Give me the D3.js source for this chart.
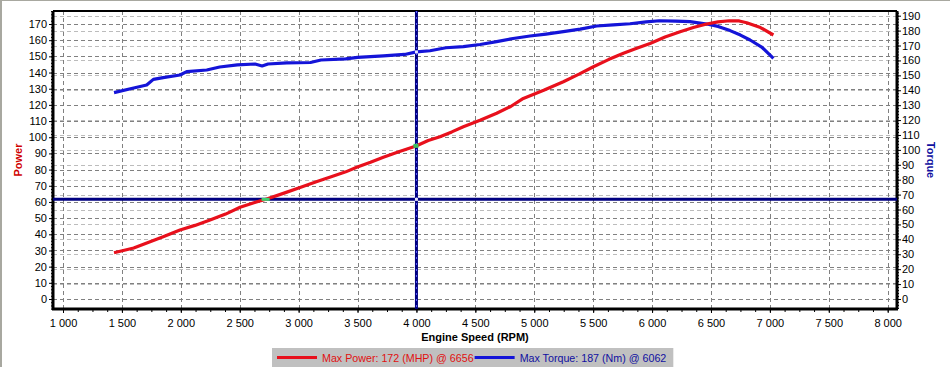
<!DOCTYPE html>
<html>
<head>
<meta charset="utf-8">
<script src="https://cdn.jsdelivr.net/npm/d3@7"></script>
<style>
  body { margin:0; background:#fff; }
  svg { display:block; font-family:"Liberation Sans", Arial, sans-serif; }
</style>
</head>
<body>
<svg width="950" height="375"></svg>
<script>
// Chart data
var powerRpm=[1433,1600,1739,1850,1993,2120,2248,2380,2503,2620,2729,2870,3012,3150,3295,3400,3493,3610,3719,3850,3997,4100,4200,4300,4398,4540,4681,4800,4907,5080,5247,5380,5502,5630,5757,5870,5983,6110,6238,6350,6464,6560,6656,6740,6803,6920,7030];
var powerVal=[28.6,31.5,35.4,38.5,42.7,45.5,48.8,52.5,56.7,59.5,61.8,65.3,69,72.5,76,78.6,81.4,84.5,87.6,91,94.6,98,100.3,103.3,106.5,110.5,114.8,119,124,129,134.3,139,143.6,148,151.9,155,158,162,165.2,167.8,170,171.3,172,171.9,170.8,167.8,163.2];

var torqueRpm=[1433,1600,1710,1767,1850,1993,2050,2220,2330,2480,2630,2690,2740,2900,3100,3190,3400,3500,3720,3900,4000,4115,4250,4398,4540,4681,4820,4964,5100,5247,5390,5530,5670,5813,5950,6062,6200,6322,6464,6560,6662,6750,6832,6930,7030];
var torqueVal=[138.4,141.5,143.5,147.3,148.5,150.2,152.5,153.6,155.6,157,157.6,156.3,157.6,158.3,158.6,160.3,161,162,163,164,165.7,166.5,168.5,169.2,170.7,172.6,174.7,176.4,177.7,179.3,181,183.1,183.8,184.6,185.8,186.6,186.4,186,184.4,182.8,180,177,173.7,169,161.4];

var xTicks=[1000,1500,2000,2500,3000,3500,4000,4500,5000,5500,6000,6500,7000,7500,8000];
var powerTicks=d3.range(0,171,10);
var torqueTicks=d3.range(0,191,10);

var cursorRpm=4000;     // vertical cursor
var cursorPower=61.6;   // horizontal cursor (left axis units)

var legendItems=[
  {label:"Max Power: 172 (MHP) @ 6656", color:"#e8101c", text:"#e01010"},
  {label:"Max Torque: 187 (Nm) @ 6062", color:"#1414d8", text:"#1010a0"}
];

// Plot area
var pLeft=53, pRight=897, pTop=11, pBottom=309;
var svg=d3.select("svg");

// outer window edge
svg.append("rect").attr("x",0).attr("y",0).attr("width",950).attr("height",1).attr("fill","#a8a8a0");
svg.append("rect").attr("x",0).attr("y",0).attr("width",2).attr("height",367).attr("fill","#a8a8a0");

var xScale=d3.scaleLinear().domain([915,8079]).range([pLeft,pRight]);
var yPower=d3.scaleLinear().domain([-6.18,178.04]).range([pBottom,pTop]);
var yTorque=d3.scaleLinear().domain([-6.71,193.15]).range([pBottom,pTop]);

// grids: light ones for torque axis, darker ones for power axis
svg.append("g")
  .selectAll("line").data(torqueTicks).enter().append("line")
    .attr("x1",pLeft).attr("x2",pRight)
    .attr("y1",d=>Math.round(yTorque(d))+0.5).attr("y2",d=>Math.round(yTorque(d))+0.5)
    .attr("stroke","#bcbcbc").attr("stroke-dasharray","4,3");

svg.append("g")
  .selectAll("line").data(powerTicks).enter().append("line")
    .attr("x1",pLeft).attr("x2",pRight)
    .attr("y1",d=>Math.round(yPower(d))+0.5).attr("y2",d=>Math.round(yPower(d))+0.5)
    .attr("stroke","#808080").attr("stroke-dasharray","4,3");

svg.append("g")
  .selectAll("line").data(xTicks).enter().append("line")
    .attr("x1",d=>Math.round(xScale(d))+0.5).attr("x2",d=>Math.round(xScale(d))+0.5)
    .attr("y1",pTop).attr("y2",pBottom)
    .attr("stroke","#808080").attr("stroke-dasharray","4,3");

// axes
var xAxis=d3.axisBottom(xScale).tickValues(xTicks).tickSize(4).tickPadding(6)
            .tickFormat(d=>d3.format(",")(d).replace(","," "));
var xMinor=d3.axisBottom(xScale).tickValues(d3.range(1000,8001,125)).tickSize(3).tickFormat("");
var yAxisL=d3.axisLeft(yPower).tickValues(powerTicks).tickSize(4).tickPadding(2);
var yMinorL=d3.axisLeft(yPower).tickValues(d3.range(-6,179,2)).tickSize(2).tickFormat("");
var yAxisR=d3.axisRight(yTorque).tickValues(torqueTicks).tickSize(4).tickPadding(1);
var yMinorR=d3.axisRight(yTorque).tickValues(d3.range(-6,194,2)).tickSize(2).tickFormat("");

function styleAxis(g){
  g.select(".domain").remove();
  g.selectAll("text").attr("font-size","11px").attr("fill","#000")
   .attr("font-family","'Liberation Sans', Arial, sans-serif");
  g.selectAll("line").attr("stroke","#000");
}
svg.append("g").attr("transform","translate(0,"+pBottom+")").call(xMinor).call(styleAxis);
svg.append("g").attr("transform","translate(0,"+pBottom+")").call(xAxis).call(styleAxis);
svg.append("g").attr("transform","translate("+pLeft+",0)").call(yMinorL).call(styleAxis);
svg.append("g").attr("transform","translate("+pLeft+",0)").call(yAxisL).call(styleAxis);
svg.append("g").attr("transform","translate("+pRight+",0)").call(yMinorR).call(styleAxis);
svg.append("g").attr("transform","translate("+pRight+",0)").call(yAxisR).call(styleAxis);

// frame
svg.append("line").attr("x1",pLeft).attr("x2",pRight).attr("y1",pTop).attr("y2",pTop).attr("stroke","#000").attr("stroke-width",2);
svg.append("line").attr("x1",pLeft-1).attr("x2",pRight+1).attr("y1",pBottom).attr("y2",pBottom).attr("stroke","#000").attr("stroke-width",3);
svg.append("line").attr("x1",pLeft).attr("x2",pLeft).attr("y1",pTop).attr("y2",pBottom).attr("stroke","#000").attr("stroke-width",3);
svg.append("line").attr("x1",pRight).attr("x2",pRight).attr("y1",pTop).attr("y2",pBottom).attr("stroke","#000").attr("stroke-width",3);

// cursor lines
var cx=xScale(cursorRpm), cy=yPower(cursorPower);
svg.append("line").attr("x1",cx).attr("x2",cx).attr("y1",pTop).attr("y2",pBottom)
   .attr("stroke","#000080").attr("stroke-width",3);
svg.append("line").attr("x1",cx).attr("x2",cx).attr("y1",pTop).attr("y2",pBottom)
   .attr("stroke","#6060ff").attr("stroke-width",1).attr("stroke-dasharray","2,4");
svg.append("line").attr("x1",pLeft).attr("x2",pRight).attr("y1",cy).attr("y2",cy)
   .attr("stroke","#000080").attr("stroke-width",3);

// curves
var powerData=powerRpm.map((r,i)=>[r,powerVal[i]]);
var torqueData=torqueRpm.map((r,i)=>[r,torqueVal[i]]);

svg.append("path").datum(torqueData)
   .attr("d",d3.line().x(d=>xScale(d[0])).y(d=>yTorque(d[1])))
   .attr("fill","none").attr("stroke",legendItems[1].color).attr("stroke-width",3.2)
   .attr("stroke-linejoin","round");
svg.append("path").datum(powerData)
   .attr("d",d3.line().x(d=>xScale(d[0])).y(d=>yPower(d[1])))
   .attr("fill","none").attr("stroke",legendItems[0].color).attr("stroke-width",3.2)
   .attr("stroke-linejoin","round");

// cursor intersection markers
function interp(xs,ys,x){
  for(var i=1;i<xs.length;i++){
    if(xs[i]>=x){var t=(x-xs[i-1])/(xs[i]-xs[i-1]);return ys[i-1]+t*(ys[i]-ys[i-1]);}
  }
  return ys[ys.length-1];
}
function interpInv(xs,ys,y){
  for(var i=1;i<ys.length;i++){
    if(ys[i]>=y){var t=(y-ys[i-1])/(ys[i]-ys[i-1]);return xs[i-1]+t*(xs[i]-xs[i-1]);}
  }
  return xs[xs.length-1];
}
svg.append("rect").attr("x",cx-3).attr("y",yPower(interp(powerRpm,powerVal,cursorRpm))-2)
   .attr("width",5).attr("height",4).attr("fill","#3cc060");
svg.append("rect").attr("x",xScale(interpInv(powerRpm,powerVal,cursorPower))-4).attr("y",cy-1.5)
   .attr("width",8).attr("height",3).attr("fill","#40d070");
svg.append("rect").attr("x",cx-1.5).attr("y",yTorque(interp(torqueRpm,torqueVal,cursorRpm))-1.5)
   .attr("width",3).attr("height",3).attr("fill","#e8e8ff");
svg.append("rect").attr("x",cx-1.5).attr("y",cy-1.5).attr("width",3).attr("height",3).attr("fill","#e8e8ff");

// axis titles
svg.append("text")
   .attr("x",(pLeft+pRight)/2).attr("y",341)
   .attr("text-anchor","middle").attr("font-size","11px").attr("font-weight","bold")
   .text("Engine Speed (RPM)");

svg.append("text")
   .attr("transform","translate(22,160) rotate(-90)")
   .attr("text-anchor","middle").attr("font-size","11px").attr("font-weight","bold")
   .attr("fill","#d00000")
   .text("Power");

svg.append("text")
   .attr("transform","translate(927,160) rotate(90)")
   .attr("text-anchor","middle").attr("font-size","11px").attr("font-weight","bold")
   .attr("fill","#1010a0")
   .text("Torque");

// legend
var legend=svg.append("g");
var lgBox=legend.append("rect").attr("y",348).attr("height",19).attr("fill","#c0c0c0");
var lx=277;
legendItems.forEach(function(it){
  legend.append("line").attr("x1",lx).attr("x2",lx+40).attr("y1",357.5).attr("y2",357.5)
        .attr("stroke",it.color).attr("stroke-width",3);
  var t=legend.append("text").attr("x",lx+45).attr("y",362).attr("font-size","10.7px")
        .attr("fill",it.text).text(it.label);
  lx=lx+45+t.node().getComputedTextLength()+1;
});
lgBox.attr("x",272).attr("width",lx-272+6);
</script>
</body>
</html>
